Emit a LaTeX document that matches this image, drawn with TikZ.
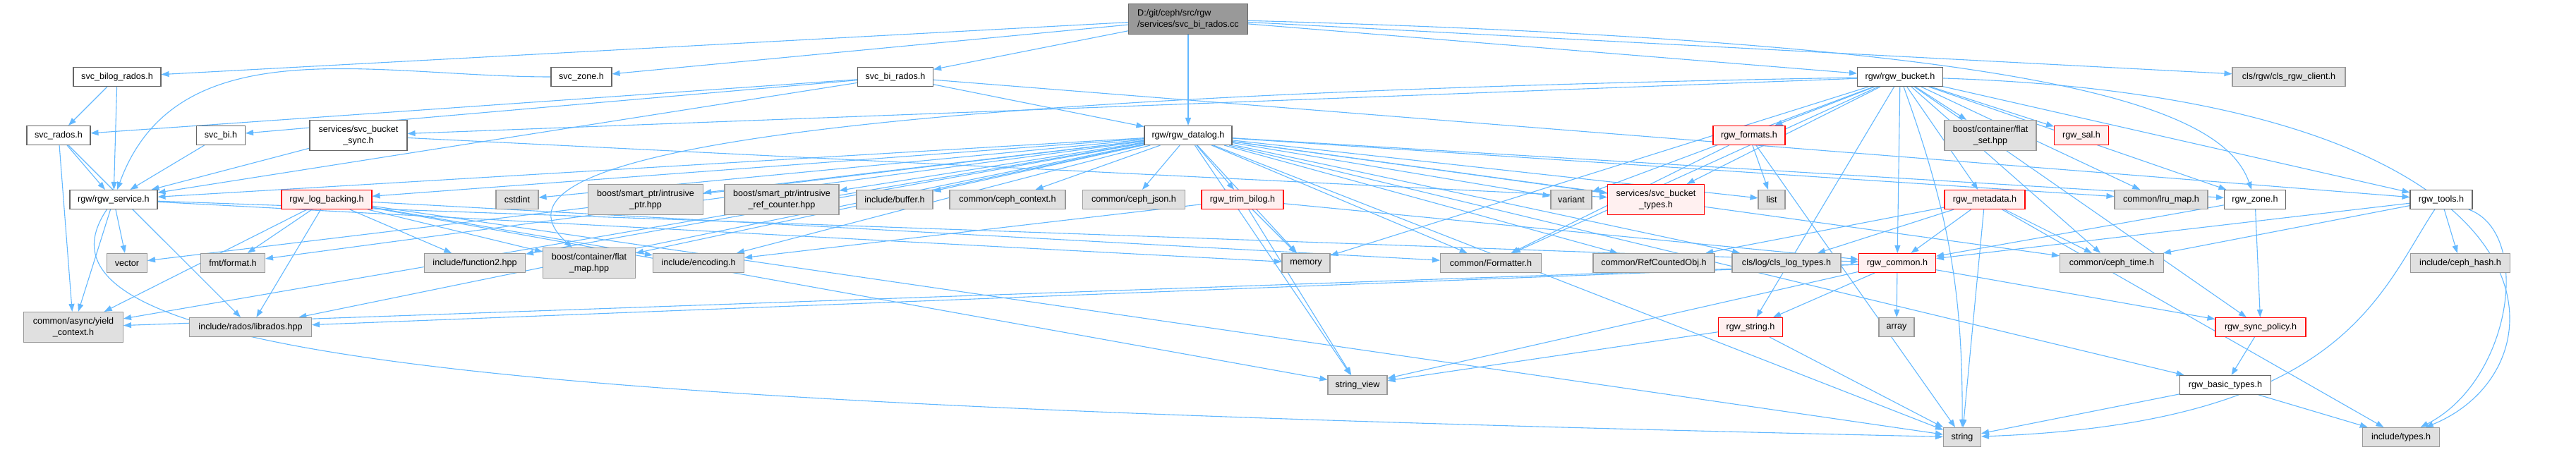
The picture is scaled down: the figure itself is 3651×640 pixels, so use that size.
\documentclass[tikz,border=0pt]{standalone}
\usepackage{fontspec}
\setmainfont{Liberation Sans}
\usetikzlibrary{arrows.meta}
\definecolor{edgeblue}{HTML}{63B8FF}
\definecolor{docline}{HTML}{666666}
\definecolor{extline}{HTML}{999999}
\definecolor{extfill}{HTML}{E0E0E0}
\definecolor{truncfill}{HTML}{FFF0F0}
\definecolor{rootfill}{HTML}{999999}
\pgfdeclarelayer{background}
\pgfsetlayers{background,main}
\begin{document}
\begin{tikzpicture}[x=1pt, y=-1pt,
    every node/.style={font=\fontsize{12.6}{15.7}\selectfont, minimum height=27pt,
      inner xsep=4pt, inner ysep=2pt, line width=1.1pt, align=center},
    file/.style={draw=docline, fill=white},
    ext/.style={draw=extline, fill=extfill},
    trunc/.style={draw=red, fill=truncfill},
    rootfile/.style={draw=docline, fill=rootfill, align=left},
    dep/.style={draw=edgeblue, line width=1.1pt, -{Triangle[length=11pt,width=8pt]}}]
    \useasboundingbox (0,0) rectangle (3651,640);

    % top rows
    \node[rootfile, minimum width=169, minimum height=43] (root) at (1684,27) {D:/git/ceph/src/rgw\\/services/svc\_bi\_rados.cc};
    \node[file, minimum width=124] (svcbilog) at (166,109) {svc\_bilog\_rados.h};
    \node[file, minimum width=86] (svczone) at (824,109) {svc\_zone.h};
    \node[file, minimum width=107] (svcbirados) at (1269,109) {svc\_bi\_rados.h};
    \node[file, minimum width=121] (bucket) at (2693,109) {rgw/rgw\_bucket.h};
    \node[ext, minimum width=160] (clsclient) at (3244,109) {cls/rgw/cls\_rgw\_client.h};

    \node[file, minimum width=90] (svcrados) at (83,192) {svc\_rados.h};
    \node[file, minimum width=69] (svcbi) at (313,192) {svc\_bi.h};
    \node[file, minimum width=138, minimum height=43] (bsync) at (508,192) {services/svc\_bucket\\\_sync.h};
    \node[file, minimum width=124] (datalog) at (1684,192) {rgw/rgw\_datalog.h};
    \node[trunc, minimum width=102] (formats) at (2479,192) {rgw\_formats.h};
    \node[ext, minimum width=130, minimum height=43] (flatset) at (2821,192) {boost/container/flat\\\_set.hpp};
    \node[trunc, minimum width=77] (sal) at (2950,192) {rgw\_sal.h};

    % middle row
    \node[file, minimum width=124] (service) at (161,283) {rgw/rgw\_service.h};
    \node[trunc, minimum width=128] (logback) at (463,283) {rgw\_log\_backing.h};
    \node[ext, minimum width=60] (cstdint) at (733,283) {cstdint};
    \node[ext, minimum width=163, minimum height=43] (iptr) at (915,283) {boost/smart\_ptr/intrusive\\\_ptr.hpp};
    \node[ext, minimum width=162, minimum height=43] (irefc) at (1108,283) {boost/smart\_ptr/intrusive\\\_ref\_counter.hpp};
    \node[ext, minimum width=108] (buffer) at (1268,283) {include/buffer.h};
    \node[ext, minimum width=164] (cctx) at (1428,283) {common/ceph\_context.h};
    \node[ext, minimum width=145] (cjson) at (1607,283) {common/ceph\_json.h};
    \node[trunc, minimum width=116] (trim) at (1761,283) {rgw\_trim\_bilog.h};
    \node[ext, minimum width=58] (variant) at (2227,283) {variant};
    \node[trunc, minimum width=137, minimum height=43] (btypes) at (2347,283) {services/svc\_bucket\\\_types.h};
    \node[ext, minimum width=38] (list) at (2511,283) {list};
    \node[trunc, minimum width=114] (metadata) at (2813,283) {rgw\_metadata.h};
    \node[ext, minimum width=132] (lru) at (3063,283) {common/lru\_map.h};
    \node[file, minimum width=87] (zone) at (3196,283) {rgw\_zone.h};
    \node[file, minimum width=88] (tools) at (3460,283) {rgw\_tools.h};

    \node[ext, minimum width=57] (vector) at (180,373) {vector};
    \node[ext, minimum width=91] (fmt) at (330,373) {fmt/format.h};
    \node[ext, minimum width=143] (func2) at (673,373) {include/function2.hpp};
    \node[ext, minimum width=131, minimum height=43] (flatmap) at (835,373) {boost/container/flat\\\_map.hpp};
    \node[ext, minimum width=129] (encoding) at (990,373) {include/encoding.h};
    \node[ext, minimum width=68] (memory) at (1851,373) {memory};
    \node[ext, minimum width=143] (formatter) at (2113,373) {common/Formatter.h};
    \node[ext, minimum width=172] (refc) at (2344,373) {common/RefCountedObj.h};
    \node[ext, minimum width=154] (clslog) at (2532,373) {cls/log/cls\_log\_types.h};
    \node[trunc, minimum width=109] (common) at (2689,373) {rgw\_common.h};
    \node[ext, minimum width=147] (ctime) at (2993,373) {common/ceph\_time.h};
    \node[ext, minimum width=141] (chash) at (3487,373) {include/ceph\_hash.h};

    % bottom rows
    \node[ext, minimum width=141, minimum height=43] (yield) at (104,464) {common/async/yield\\\_context.h};
    \node[ext, minimum width=173] (librados) at (355,464) {include/rados/librados.hpp};
    \node[trunc, minimum width=91] (rstring) at (2481,464) {rgw\_string.h};
    \node[ext, minimum width=50] (array) at (2688,464) {array};
    \node[trunc, minimum width=128] (policy) at (3204,464) {rgw\_sync\_policy.h};
    \node[ext, minimum width=84] (sview) at (1924,546) {string\_view};
    \node[file, minimum width=129] (basic) at (3154,546) {rgw\_basic\_types.h};
    \node[ext, minimum width=53] (string) at (2781,620) {string};
    \node[ext, minimum width=109] (types) at (3403,620) {include/types.h};

    \begin{pgfonlayer}{background}
    \foreach \t in {svcbilog,svczone,svcbirados,datalog,bucket,clsclient}
      \draw[dep] (root) -- (\t);
    \draw[dep] (root) .. controls (2900,60) and (3150,150) .. (zone);
    \foreach \t in {svcrados,service} \draw[dep] (svcbilog) -- (\t);
    \draw[dep] (svczone) to[out=180, in=70] (service);
    \foreach \t in {svcrados,svcbi,service,datalog,tools} \draw[dep] (svcbirados) -- (\t);
    \foreach \t in {service,yield,librados} \draw[dep] (svcrados) -- (\t);
    \draw[dep] (svcbi) -- (service);
    \foreach \t in {service,btypes} \draw[dep] (bsync) -- (\t);
    \foreach \t in {vector,yield,memory,common} \draw[dep] (service) -- (\t);
    \draw[dep] (service) .. controls (0,520) and (800,575) .. (string);
    \foreach \t in {fmt,func2,flatmap,encoding,librados,yield,sview,string,formatter}
      \draw[dep] (logback) -- (\t);
    \foreach \t in {service,logback,cstdint,iptr,irefc,buffer,cctx,cjson,trim,memory,sview,string,variant,list,vector,fmt,func2,flatmap,encoding,yield,librados,formatter,refc,clslog,ctime,lru,zone,basic,btypes}
      \draw[dep] (datalog) -- (\t);
    \foreach \t in {encoding,memory,sview,common} \draw[dep] (trim) -- (\t);
    \foreach \t in {bsync,variant,memory,btypes,formats,flatset,sal,metadata,common,formatter,lru,zone,tools,ctime,policy,rstring}
      \draw[dep] (bucket) -- (\t);
    \draw[dep] (bucket) .. controls (900,140) and (700,250) .. (flatmap);
    \draw[dep] (bucket) to[bend left=10] (string);
    \draw[dep] (bucket) .. controls (3650,140) and (3650,520) .. (types);
    \foreach \t in {list,formatter,string} \draw[dep] (formats) -- (\t);
    \foreach \t in {common,clslog,refc,ctime,string,types} \draw[dep] (metadata) -- (\t);
    \foreach \t in {array,rstring,sview,librados,yield,policy} \draw[dep] (common) -- (\t);
    \foreach \t in {sview,string} \draw[dep] (rstring) -- (\t);
    \foreach \t in {common,policy} \draw[dep] (zone) -- (\t);
    \foreach \t in {common,ctime,chash} \draw[dep] (tools) -- (\t);
    \draw[dep] (tools) .. controls (3590,330) and (3560,540) .. (types);
    \draw[dep] (tools) .. controls (3370,420) and (3320,600) .. (string);
    \draw[dep] (policy) -- (basic);
    \foreach \t in {string,types} \draw[dep] (basic) -- (\t);
    \end{pgfonlayer}
\end{tikzpicture}
\end{document}
